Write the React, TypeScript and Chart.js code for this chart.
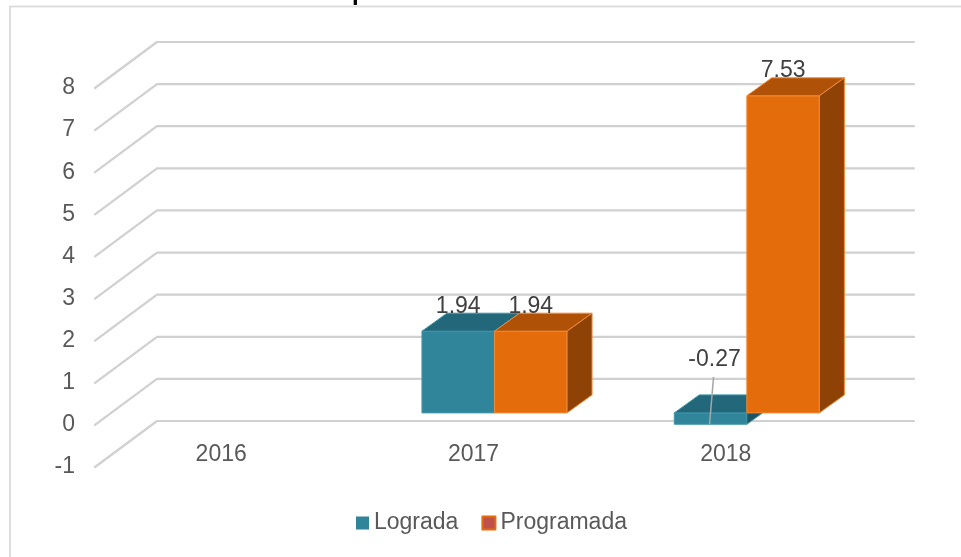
import React, { useEffect, useRef } from 'react';
import { Chart, registerables } from 'chart.js';

Chart.register(...registerables);

// ---- data ----
const categories = ['2016', '2017', '2018'];
const seriesNames = ['Lograda', 'Programada'];
const lograda: (number | null)[] = [null, 1.94, -0.27];
const programada: (number | null)[] = [null, 1.94, 7.53];
const yMin = -1;
const yMax = 8;
const yStep = 1;

// ---- styles ----
const FONT = '"Liberation Sans", Arial, Helvetica, sans-serif';
const TEXT = '#595959';
const DEPTH = { x: 62, y: -46 };
const FRONT = { x: 21, y: -12 };
const BOX = { x: 25, y: -18 };
const faces = [
  { front: '#31859B', top: '#23677A', side: '#1C5563', edge: '#3F95AA' },
  { front: '#E46C0A', top: '#AF5207', side: '#8F4205', edge: '#F28A35' },
];
const legendFill = ['#31859B', '#C0504D'];
const legendBorder: (string | null)[] = [null, '#E46C0A'];

const threeD = {
  id: 'threeD',
  beforeDraw(chart: any) {
    const ctx = chart.ctx;
    ctx.save();
    ctx.fillStyle = '#ffffff';
    ctx.fillRect(0, 0, chart.width, chart.height);
    ctx.strokeStyle = '#D9D9D9';
    ctx.lineWidth = 1.75;
    ctx.strokeRect(10, 6.5, chart.width + 40, chart.height + 40);
    ctx.fillStyle = '#000000';
    ctx.font = 'bold 24px ' + FONT;
    ctx.textBaseline = 'alphabetic';
    ctx.textAlign = 'left';
    ctx.fillText('p', 352, 0);
    ctx.restore();
  },
  beforeDatasetsDraw(chart: any) {
    const ctx = chart.ctx;
    const ys = chart.scales.y;
    const a = chart.chartArea;
    ctx.save();
    ctx.strokeStyle = '#D0D0D0';
    ctx.lineWidth = 2.2;
    ctx.lineCap = 'round';
    ctx.lineJoin = 'round';
    ys.ticks.forEach((t: any) => {
      const py = ys.getPixelForValue(t.value);
      ctx.beginPath();
      ctx.moveTo(a.left, py);
      ctx.lineTo(a.left + DEPTH.x, py + DEPTH.y);
      ctx.lineTo(a.right + DEPTH.x, py + DEPTH.y);
      ctx.stroke();
    });
    ctx.restore();
  },
  beforeDatasetDraw() {
    return false;
  },
  afterDatasetsDraw(chart: any) {
    const ctx = chart.ctx;
    const a = chart.chartArea;
    const xs = chart.scales.x;
    ctx.save();
    const labels: any[] = [];
    categories.forEach((_, i) => {
      chart.data.datasets.forEach((ds: any, d: number) => {
        const v = ds.data[i];
        if (v === null || v === undefined) return;
        const el = chart.getDatasetMeta(d).data[i];
        const p = el.getProps(['x', 'y', 'base', 'width'], true);
        const x0 = p.x - p.width / 2 + FRONT.x;
        const x1 = p.x + p.width / 2 + FRONT.x;
        const yt = Math.min(p.y, p.base) + FRONT.y;
        const yb = Math.max(p.y, p.base) + FRONT.y;
        const c = faces[d];
        ctx.lineWidth = 1;
        ctx.strokeStyle = c.edge;
        ctx.lineJoin = 'round';
        // front
        ctx.fillStyle = c.front;
        ctx.beginPath();
        ctx.rect(x0, yt, x1 - x0, yb - yt);
        ctx.fill();
        ctx.stroke();
        // top
        ctx.fillStyle = c.top;
        ctx.beginPath();
        ctx.moveTo(x0, yt);
        ctx.lineTo(x0 + BOX.x, yt + BOX.y);
        ctx.lineTo(x1 + BOX.x, yt + BOX.y);
        ctx.lineTo(x1, yt);
        ctx.closePath();
        ctx.fill();
        ctx.stroke();
        // side
        ctx.fillStyle = c.side;
        ctx.beginPath();
        ctx.moveTo(x1, yt);
        ctx.lineTo(x1 + BOX.x, yt + BOX.y);
        ctx.lineTo(x1 + BOX.x, yb + BOX.y);
        ctx.lineTo(x1, yb);
        ctx.closePath();
        ctx.fill();
        ctx.stroke();
        labels.push({ v, cx: (x0 + x1) / 2, yt, yb });
      });
    });
    // data labels
    ctx.font = '23px ' + FONT;
    ctx.fillStyle = '#404040';
    ctx.textAlign = 'center';
    ctx.textBaseline = 'middle';
    labels.forEach((l) => {
      if (l.v >= 0) {
        ctx.fillText(l.v.toFixed(2), l.cx, l.yt - 25);
      } else {
        ctx.strokeStyle = '#A6A6A6';
        ctx.lineWidth = 1.5;
        ctx.beginPath();
        ctx.moveTo(l.cx + 3, l.yt - 36);
        ctx.lineTo(l.cx - 1, l.yb);
        ctx.stroke();
        ctx.fillText(l.v.toFixed(2), l.cx + 4, l.yt - 53);
      }
    });
    // category labels
    ctx.fillStyle = TEXT;
    categories.forEach((c, i) => {
      ctx.fillText(c, xs.getPixelForValue(i), a.bottom + FRONT.y);
    });
    // legend
    ctx.textAlign = 'left';
    let lx = 356;
    const ly = 523;
    seriesNames.forEach((name, d) => {
      ctx.fillStyle = legendFill[d];
      ctx.fillRect(lx, ly - 6.5, 13, 13);
      const b = legendBorder[d];
      if (b) {
        ctx.strokeStyle = b;
        ctx.lineWidth = 2;
        ctx.strokeRect(lx, ly - 6.5, 13, 13);
      }
      ctx.fillStyle = TEXT;
      ctx.fillText(name, lx + 18, ly);
      lx += 18 + ctx.measureText(name).width + 24;
    });
    ctx.restore();
  },
};

export default function App() {
  const ref = useRef<HTMLCanvasElement | null>(null);
  useEffect(() => {
    if (!ref.current) return;
    const chart = new Chart(ref.current, {
      type: 'bar',
      data: {
        labels: categories,
        datasets: [
          {
            label: seriesNames[0],
            data: lograda,
            backgroundColor: faces[0].front,
            barPercentage: 1,
            categoryPercentage: 0.575,
          },
          {
            label: seriesNames[1],
            data: programada,
            backgroundColor: faces[1].front,
            barPercentage: 1,
            categoryPercentage: 0.575,
          },
        ],
      },
      options: {
        responsive: false,
        animation: false,
        layout: { padding: { left: 0, right: 109, top: 88, bottom: 90 } },
        plugins: {
          legend: { display: false },
          tooltip: { enabled: false },
          title: { display: false },
        },
        scales: {
          x: { display: false, offset: true },
          y: {
            min: yMin,
            max: yMax,
            ticks: {
              stepSize: yStep,
              color: TEXT,
              font: { family: FONT, size: 23 },
              padding: 20,
            },
            grid: { display: false, drawTicks: false },
            border: { display: false },
            afterFit(s: any) {
              s.width = 95;
            },
          },
        },
      },
      plugins: [threeD],
    } as any);
    return () => chart.destroy();
  }, []);
  return (
    <div style={{ position: 'absolute', left: 0, top: 0, width: 961, height: 557 }}>
      <canvas ref={ref} width={961} height={557} style={{ display: 'block' }} />
    </div>
  );
}
